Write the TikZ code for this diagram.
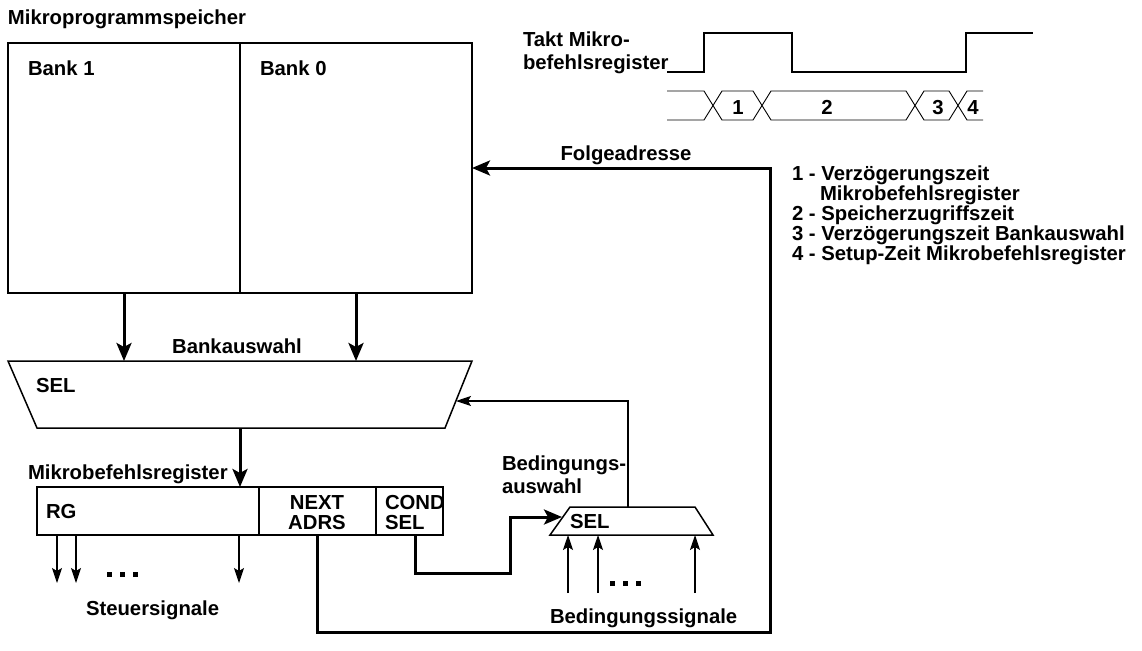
\documentclass[tikz,border=0pt]{standalone}
\usepackage{fontspec}
\setmainfont{Liberation Sans}
\usetikzlibrary{arrows.meta,calc}
\begin{document}
\begin{tikzpicture}[x=1pt,y=-1pt,
  every node/.style={inner sep=0pt,outer sep=0pt,font=\fontsize{20.3}{20}\selectfont\bfseries},
  lbl/.style={anchor=base west},
  lblc/.style={anchor=base},
  boxs/.style={draw,line width=1.5pt,anchor=north west},
  thickarrow/.style={line width=3pt,-{Stealth[length=18pt,width=15pt,inset=4pt]}},
  thinarrow/.style={line width=1.1pt,-{Stealth[length=15pt,width=10pt,inset=3pt]}},
  wave/.style={line width=1.3pt},
  bus/.style={line width=0.9pt},
  dotsq/.style={fill=black,draw=none,minimum width=5pt,minimum height=5pt,anchor=north west},
  num/.style={anchor=base}
]
\useasboundingbox (0,0) rectangle (1142,650);

% Mikroprogrammspeicher
\node[lbl] (title) at (8,25) {Mikroprogrammspeicher};
\node[boxs,minimum width=232pt,minimum height=250pt] (b1) at (8,43) {};
\node[boxs,minimum width=232pt,minimum height=250pt] (b0) at (240,43) {};
\node[lbl] (b1t) at (28,76) {Bank 1};
\node[lbl] (b0t) at (260,76) {Bank 0};

% Bank select multiplexer
\draw[line width=1.5pt] (8,361) coordinate (selTL) -- (472,361) coordinate (selTR)
  -- (445,428) coordinate (selBR) -- (37,428) coordinate (selBL) -- cycle;
\node[lbl] (selt) at (36,392) {SEL};
\node[lblc] (bankaus) at (237,353) {Bankauswahl};
\coordinate (selIn) at (456,401);
\coordinate (selOut) at (240,428);

\draw[thickarrow] (b1.south) -- (b1.south |- selTL);
\draw[thickarrow] (b0.south) -- (b0.south |- selTL);

% Mikrobefehlsregister
\node[lbl] (mbr) at (28,479) {Mikrobefehlsregister};
\node[boxs,minimum width=222pt,minimum height=48pt] (rg) at (37,487) {};
\node[boxs,minimum width=117pt,minimum height=48pt] (next) at (259,487) {};
\node[boxs,minimum width=67pt,minimum height=48pt] (cond) at (376,487) {};
\node[lbl] (rgt) at (46,518) {RG};
\node[lblc] (nextt1) at (317,509) {NEXT};
\node[lblc] (nextt2) at (317,529) {ADRS};
\node[lbl] (condt1) at (385,509) {COND};
\node[lbl] (condt2) at (385,529) {SEL};

\draw[thickarrow] (selOut) -- (selOut |- rg.north);

% Steuersignale
\coordinate (s1) at (57,583);
\coordinate (s2) at (76,583);
\coordinate (s3) at (239,583);
\draw[thinarrow] (s1 |- rg.south) -- (s1);
\draw[thinarrow] (s2 |- rg.south) -- (s2);
\draw[thinarrow] (s3 |- rg.south) -- (s3);
\node[dotsq] (d1) at (107,572) {};
\node[dotsq] (d2) at (120,572) {};
\node[dotsq] (d3) at (133,572) {};
\node[lbl] (steuer) at (86,615) {Steuersignale};

% Folgeadresse loop
\draw[thickarrow] (next.south) -- (next.south |- 0,632) -- (770,632) -- (770,168) -- (b0.east);
\node[lblc] (folge) at (626,160) {Folgeadresse};

% Condition select multiplexer
\draw[line width=1.5pt] (570,507) coordinate (cTL) -- (695,507) coordinate (cTR)
  -- (713,535) coordinate (cBR) -- (550,535) coordinate (cBL) -- cycle;
\node[lbl] (cselt) at (570,528) {SEL};
\node[lbl] (beda) at (502,470) {Bedingungs-};
\node[lbl] (bedb) at (502,493) {auswahl};
\coordinate (cIn) at (562,517);
\coordinate (cOut) at (628,507);

\draw[thickarrow] (415,535) -- (415,573) -- (510,573) -- (510,517) -- (cIn);
\draw[thinarrow] (cOut) -- (cOut |- selIn) -- (selIn);

% Bedingungssignale
\draw[thinarrow] (568,593) -- (568,535);
\draw[thinarrow] (598,593) -- (598,535);
\draw[thinarrow] (695,593) -- (695,535);
\node[dotsq] (e1) at (610,581) {};
\node[dotsq] (e2) at (623,581) {};
\node[dotsq] (e3) at (636,581) {};
\node[lbl] (bedsig) at (550,623) {Bedingungssignale};

% Timing diagram
\node[lbl] (takt1) at (523,47) {Takt Mikro-};
\node[lbl] (takt2) at (523,70) {befehlsregister};
\draw[wave] (667,72) -- (704,72) -- (704,33) -- (792,33) -- (792,72) -- (966,72) -- (966,33) -- (1033,33);

\draw[bus] (667,91) -- (704,91) -- (722,120) -- (753,120) -- (771,91) -- (906,91) -- (924,120) -- (949,120) -- (967,91) -- (983,91);
\draw[bus] (667,120) -- (704,120) -- (722,91) -- (753,91) -- (771,120) -- (906,120) -- (924,91) -- (949,91) -- (967,120) -- (983,120);
\node[num] (n1) at (738,114) {1};
\node[num] (n2) at (827,114) {2};
\node[num] (n3) at (938,114) {3};
\node[num] (n4) at (973,114) {4};

% Legend
\node[lbl] (l1) at (792,180) {1 - Verzögerungszeit};
\node[lbl] (l1b) at (820,200) {Mikrobefehlsregister};
\node[lbl] (l2) at (792,220) {2 - Speicherzugriffszeit};
\node[lbl] (l3) at (792,240) {3 - Verzögerungszeit Bankauswahl};
\node[lbl] (l4) at (792,260) {4 - Setup-Zeit Mikrobefehlsregister};
\end{tikzpicture}
\end{document}
